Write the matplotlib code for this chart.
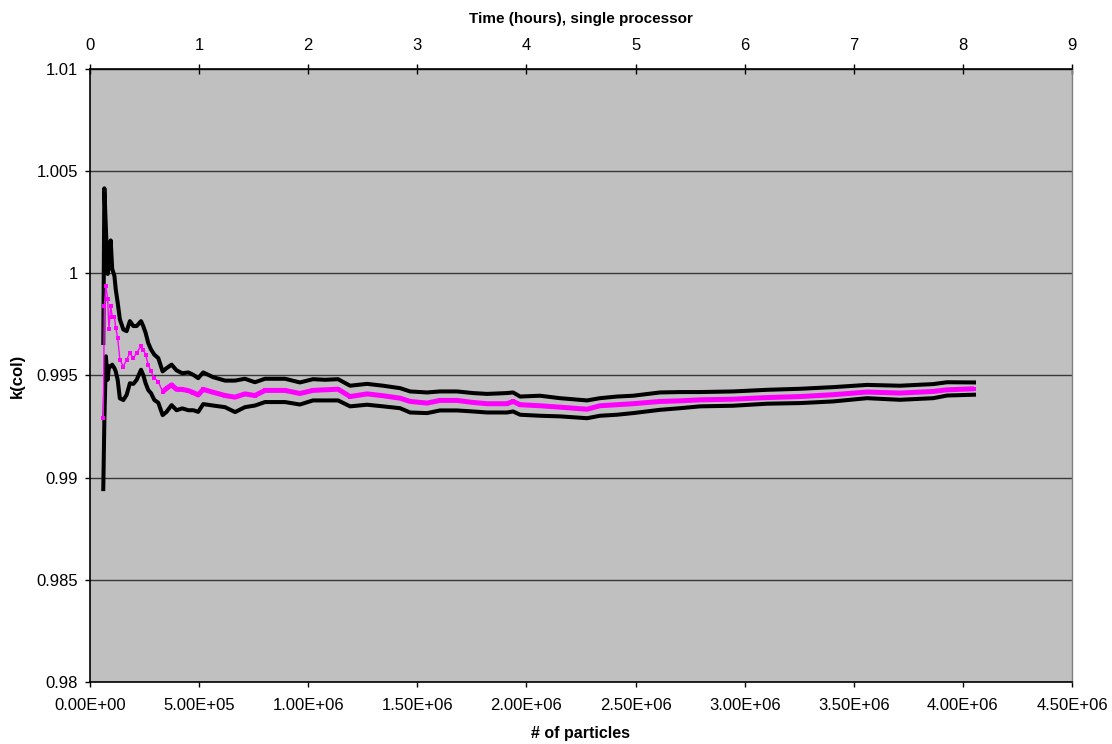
import matplotlib
matplotlib.use("Agg")
import matplotlib.pyplot as plt
from matplotlib.ticker import FuncFormatter, MultipleLocator, FixedLocator

plt.rcParams["font.family"] = ["Liberation Sans", "DejaVu Sans"]

# number of particles tracked
particles = [
    61000, 66000, 73000, 81000, 87000, 95000, 102000, 112000, 118000, 127000,
    137000, 153000, 168000, 183000, 199000, 214000, 234000, 244000, 255000, 267000,
    280000, 295000, 313000, 333000, 351000, 374000, 397000, 423000, 451000, 474000,
    496000, 519000, 564000, 619000, 665000, 710000, 756000, 802000, 894000, 962000,
    1022000, 1077000, 1137000, 1192000, 1270000, 1343000, 1421000, 1467000, 1545000, 1604000,
    1682000, 1755000, 1820000, 1911000, 1939000, 1971000, 2062000, 2154000, 2278000, 2337000,
    2415000, 2489000, 2612000, 2704000, 2796000, 2947000, 3103000, 3254000, 3405000, 3561000,
    3712000, 3864000, 3928000, 4051000,
]

# running estimate of k(col)
k_mean = [
    0.99294, 0.99840, 0.99936, 0.99873, 0.99729, 0.99840, 0.99788, 0.99788, 0.99734, 0.99684,
    0.99577, 0.99544, 0.99577, 0.99610, 0.99585, 0.99610, 0.99646, 0.99627, 0.99602, 0.99553,
    0.99520, 0.99487, 0.99470, 0.99421, 0.99437, 0.99454, 0.99432, 0.99432, 0.99426, 0.99416,
    0.99405, 0.99432, 0.99418, 0.99402, 0.99394, 0.99410, 0.99402, 0.99427, 0.99427, 0.99412,
    0.99427, 0.99430, 0.99433, 0.99397, 0.99410, 0.99401, 0.99389, 0.99373, 0.99365, 0.99378,
    0.99378, 0.99368, 0.99362, 0.99362, 0.99373, 0.99357, 0.99352, 0.99345, 0.99335, 0.99352,
    0.99357, 0.99362, 0.99373, 0.99376, 0.99381, 0.99384, 0.99392, 0.99397, 0.99406, 0.99419,
    0.99414, 0.99422, 0.99430, 0.99435,
]

# upper and lower confidence bounds
k_upper = [
    0.99659, 1.00416, 1.00219, 0.99997, 1.00038, 1.00161, 1.00021, 0.99988, 0.99923, 0.99857,
    0.99775, 0.99725, 0.99717, 0.99766, 0.99742, 0.99742, 0.99766, 0.99742, 0.99709, 0.99659,
    0.99627, 0.99602, 0.99585, 0.99520, 0.99536, 0.99553, 0.99525, 0.99511, 0.99515, 0.99503,
    0.99487, 0.99515, 0.99492, 0.99475, 0.99475, 0.99484, 0.99467, 0.99484, 0.99484, 0.99466,
    0.99482, 0.99479, 0.99482, 0.99450, 0.99459, 0.99450, 0.99438, 0.99422, 0.99417, 0.99422,
    0.99422, 0.99414, 0.99410, 0.99414, 0.99417, 0.99397, 0.99401, 0.99389, 0.99378, 0.99389,
    0.99397, 0.99401, 0.99417, 0.99419, 0.99419, 0.99422, 0.99430, 0.99435, 0.99443, 0.99454,
    0.99450, 0.99458, 0.99467, 0.99466,
]

k_lower = [
    0.98944, 0.99281, 0.99594, 0.99479, 0.99544, 0.99544, 0.99553, 0.99536, 0.99520, 0.99479,
    0.99388, 0.99380, 0.99405, 0.99462, 0.99459, 0.99479, 0.99528, 0.99503, 0.99462, 0.99429,
    0.99413, 0.99380, 0.99367, 0.99306, 0.99322, 0.99355, 0.99330, 0.99339, 0.99330, 0.99330,
    0.99322, 0.99360, 0.99353, 0.99345, 0.99321, 0.99345, 0.99353, 0.99370, 0.99370, 0.99358,
    0.99378, 0.99378, 0.99378, 0.99349, 0.99357, 0.99349, 0.99340, 0.99319, 0.99316, 0.99329,
    0.99329, 0.99324, 0.99319, 0.99319, 0.99324, 0.99308, 0.99303, 0.99300, 0.99291, 0.99303,
    0.99308, 0.99316, 0.99332, 0.99340, 0.99349, 0.99352, 0.99362, 0.99365, 0.99373, 0.99389,
    0.99381, 0.99389, 0.99402, 0.99406,
]

y_ticks = [0.98, 0.985, 0.99, 0.995, 1.0, 1.005, 1.01]
y_tick_labels = ["0.98", "0.985", "0.99", "0.995", "1", "1.005", "1.01"]
hour_ticks = [0, 1, 2, 3, 4, 5, 6, 7, 8, 9]

fig = plt.figure(figsize=(11.12, 7.44), dpi=100)
ax = fig.add_axes([0.0809, 0.0833, 0.8831, 0.824])
ax.set_facecolor("#C0C0C0")

# gridlines behind the data
ax.set_axisbelow(True)
ax.yaxis.grid(True, color="#383838", linewidth=1.0)

ax.plot(particles, k_upper, color="black", linewidth=2.9, zorder=3)
ax.plot(particles, k_lower, color="black", linewidth=2.9, zorder=3)

# dense part of the mean series reads as a solid band
dense = 24
ax.plot(particles[dense - 1:], k_mean[dense - 1:], color="#FF00FF", linewidth=3.6,
        solid_capstyle="butt", zorder=4)
ax.plot(particles, k_mean, color="#FF00FF", linewidth=1.0, marker="s",
        markersize=3.4, markeredgewidth=0, zorder=4)

ax.set_xlim(0, 4.5e6)
ax.set_ylim(0.98, 1.01)
ax.xaxis.set_major_locator(MultipleLocator(5e5))
ax.xaxis.set_major_formatter(FuncFormatter(lambda v, p: f"{v:.2E}"))
ax.set_yticks(y_ticks)
ax.set_yticklabels(y_tick_labels)
ax.tick_params(axis="x", direction="out", length=3.6, width=1, color="black",
               labelsize=12, pad=8)
ax.tick_params(axis="y", direction="out", length=3.6, width=1, color="black",
               labelsize=12, pad=5)

for side in ("left", "bottom", "top"):
    ax.spines[side].set_color("black")
    ax.spines[side].set_linewidth(1.2)
ax.spines["right"].set_color("#808080")
ax.spines["right"].set_linewidth(1.0)

ax.set_xlabel("# of particles", fontsize=11.5, fontweight="bold", labelpad=9)
ax.set_ylabel("k(col)", fontsize=12, fontweight="bold", labelpad=8)

# wall-clock time on a single processor, 9 hours across the full particle range
top = ax.secondary_xaxis("top", functions=(lambda x: x / 5e5, lambda h: h * 5e5))
top.xaxis.set_major_locator(FixedLocator(hour_ticks))
top.xaxis.set_major_formatter(FuncFormatter(lambda v, p: f"{v:.0f}"))
top.tick_params(direction="inout", length=7, width=1, labelsize=12, pad=8)
top.spines["top"].set_color("black")
top.set_xlabel("Time (hours), single processor", fontsize=11, fontweight="bold", labelpad=11)

fig.savefig("out.png", dpi=100, facecolor="white")
